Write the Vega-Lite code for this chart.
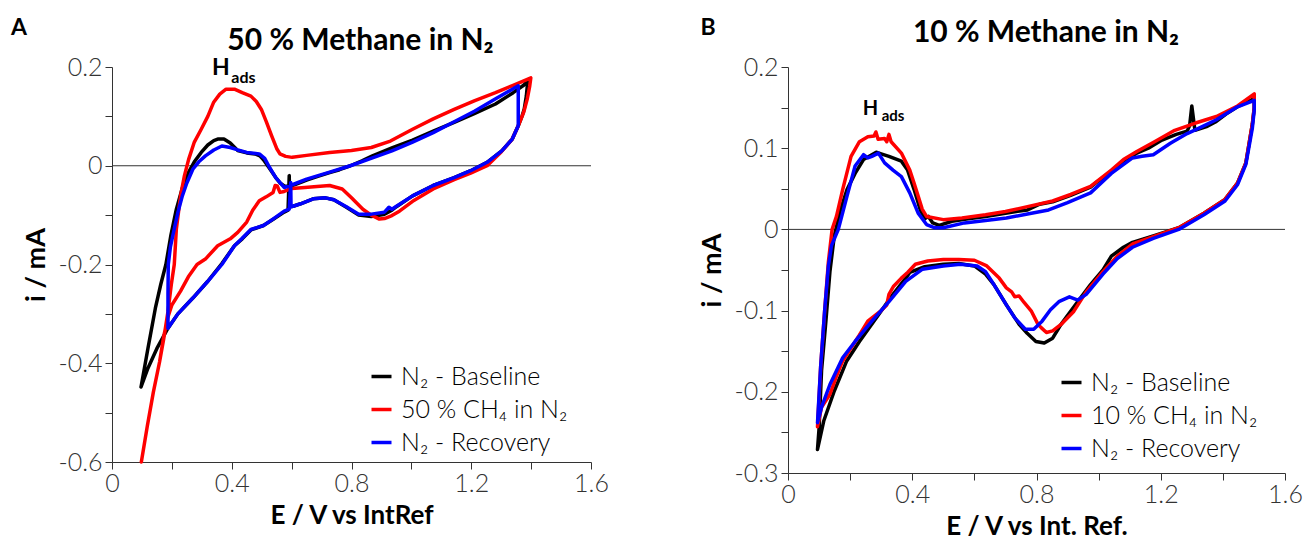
{
  "$schema": "https://vega.github.io/schema/vega-lite/v6.json",
  "background": "white",
  "padding": {"left": 10, "top": 17, "right": 5, "bottom": 0},
  "spacing": 89,
  "config": {
    "view": {"stroke": null},
    "font": "Lato",
    "axis": {"grid": false, "domainColor": "#333333", "tickColor": "#333333", "tickSize": 7, "labelFont": "Lato", "labelFontSize": 25, "labelFontWeight": 300, "labelColor": "#333333", "titleFont": "Lato", "titleFontSize": 27, "titleFontWeight": "bold", "titleColor": "#000000", "labelOverlap": false, "labelFlush": false, "labelBound": false, "labelPadding": 3, "titlePadding": 7},
    "axisX": {"titlePadding": 6, "labelPadding": 2, "titleFontSize": 26},
    "legend": {"symbolType": "stroke", "symbolStrokeWidth": 3.5, "symbolSize": 400, "labelFont": "Lato", "labelFontSize": 25, "labelFontWeight": 300, "labelColor": "#000000", "labelLimit": 400, "rowPadding": 7, "labelOffset": 7, "padding": 0}
  },
  "resolve": {"scale": {"color": "independent"}, "legend": {"color": "independent"}},
  "datasets": {
    "A": [
      {"s":"base","E":0.097,"I":-0.448},{"s":"base","E":0.12,"I":-0.37},{"s":"base","E":0.145,"I":-0.288},{"s":"base","E":0.163,"I":-0.24},{"s":"base","E":0.18,"I":-0.2},{"s":"base","E":0.197,"I":-0.14},{"s":"base","E":0.215,"I":-0.088},{"s":"base","E":0.235,"I":-0.045},{"s":"base","E":0.256,"I":-0.013},{"s":"base","E":0.275,"I":0.008},{"s":"base","E":0.298,"I":0.027},{"s":"base","E":0.32,"I":0.042},{"s":"base","E":0.34,"I":0.051},{"s":"base","E":0.353,"I":0.054},{"s":"base","E":0.374,"I":0.054},{"s":"base","E":0.395,"I":0.046},{"s":"base","E":0.42,"I":0.031},{"s":"base","E":0.45,"I":0.026},{"s":"base","E":0.478,"I":0.024},{"s":"base","E":0.494,"I":0.02},{"s":"base","E":0.506,"I":0.012},{"s":"base","E":0.527,"I":-0.006},{"s":"base","E":0.547,"I":-0.024},{"s":"base","E":0.562,"I":-0.035},{"s":"base","E":0.575,"I":-0.041},{"s":"base","E":0.595,"I":-0.042},{"s":"base","E":0.62,"I":-0.036},{"s":"base","E":0.65,"I":-0.029},{"s":"base","E":0.69,"I":-0.021},{"s":"base","E":0.727,"I":-0.014},{"s":"base","E":0.76,"I":-0.008},{"s":"base","E":0.796,"I":0.0},{"s":"base","E":0.835,"I":0.01},{"s":"base","E":0.87,"I":0.02},{"s":"base","E":0.935,"I":0.036},{"s":"base","E":1.004,"I":0.052},{"s":"base","E":1.073,"I":0.07},{"s":"base","E":1.143,"I":0.088},{"s":"base","E":1.212,"I":0.106},{"s":"base","E":1.281,"I":0.125},{"s":"base","E":1.34,"I":0.148},{"s":"base","E":1.375,"I":0.163},{"s":"base","E":1.39,"I":0.174},{"s":"base","E":1.387,"I":0.16},{"s":"base","E":1.384,"I":0.141},{"s":"base","E":1.377,"I":0.115},{"s":"base","E":1.37,"I":0.101},{"s":"base","E":1.357,"I":0.081},{"s":"base","E":1.337,"I":0.054},{"s":"base","E":1.302,"I":0.03},{"s":"base","E":1.253,"I":0.007},{"s":"base","E":1.198,"I":-0.01},{"s":"base","E":1.143,"I":-0.024},{"s":"base","E":1.073,"I":-0.04},{"s":"base","E":1.004,"I":-0.061},{"s":"base","E":0.95,"I":-0.083},{"s":"base","E":0.935,"I":-0.09},{"s":"base","E":0.907,"I":-0.099},{"s":"base","E":0.866,"I":-0.103},{"s":"base","E":0.824,"I":-0.1},{"s":"base","E":0.783,"I":-0.084},{"s":"base","E":0.741,"I":-0.069},{"s":"base","E":0.713,"I":-0.065},{"s":"base","E":0.672,"I":-0.067},{"s":"base","E":0.63,"I":-0.077},{"s":"base","E":0.605,"I":-0.082},{"s":"base","E":0.594,"I":-0.083},{"s":"base","E":0.592,"I":-0.02},{"s":"base","E":0.588,"I":-0.09},{"s":"base","E":0.575,"I":-0.094},{"s":"base","E":0.54,"I":-0.108},{"s":"base","E":0.506,"I":-0.121},{"s":"base","E":0.464,"I":-0.13},{"s":"base","E":0.435,"I":-0.148},{"s":"base","E":0.409,"I":-0.162},{"s":"base","E":0.367,"I":-0.198},{"s":"base","E":0.32,"I":-0.234},{"s":"base","E":0.27,"I":-0.268},{"s":"base","E":0.22,"I":-0.3},{"s":"base","E":0.187,"I":-0.329},{"s":"base","E":0.15,"I":-0.37},{"s":"base","E":0.12,"I":-0.41},{"s":"base","E":0.097,"I":-0.448},
      {"s":"ch4","E":0.098,"I":-0.6},{"s":"ch4","E":0.118,"I":-0.527},{"s":"ch4","E":0.138,"I":-0.459},{"s":"ch4","E":0.159,"I":-0.397},{"s":"ch4","E":0.173,"I":-0.35},{"s":"ch4","E":0.187,"I":-0.295},{"s":"ch4","E":0.198,"I":-0.241},{"s":"ch4","E":0.208,"I":-0.2},{"s":"ch4","E":0.215,"I":-0.128},{"s":"ch4","E":0.229,"I":-0.061},{"s":"ch4","E":0.242,"I":-0.02},{"s":"ch4","E":0.256,"I":0.013},{"s":"ch4","E":0.275,"I":0.048},{"s":"ch4","E":0.298,"I":0.074},{"s":"ch4","E":0.32,"I":0.1},{"s":"ch4","E":0.339,"I":0.128},{"s":"ch4","E":0.36,"I":0.145},{"s":"ch4","E":0.381,"I":0.155},{"s":"ch4","E":0.409,"I":0.155},{"s":"ch4","E":0.435,"I":0.148},{"s":"ch4","E":0.464,"I":0.141},{"s":"ch4","E":0.482,"I":0.13},{"s":"ch4","E":0.499,"I":0.114},{"s":"ch4","E":0.515,"I":0.09},{"s":"ch4","E":0.533,"I":0.061},{"s":"ch4","E":0.55,"I":0.035},{"s":"ch4","E":0.561,"I":0.024},{"s":"ch4","E":0.58,"I":0.019},{"s":"ch4","E":0.602,"I":0.017},{"s":"ch4","E":0.65,"I":0.021},{"s":"ch4","E":0.727,"I":0.027},{"s":"ch4","E":0.8,"I":0.031},{"s":"ch4","E":0.866,"I":0.037},{"s":"ch4","E":0.93,"I":0.05},{"s":"ch4","E":1.004,"I":0.074},{"s":"ch4","E":1.073,"I":0.095},{"s":"ch4","E":1.143,"I":0.114},{"s":"ch4","E":1.212,"I":0.132},{"s":"ch4","E":1.281,"I":0.148},{"s":"ch4","E":1.34,"I":0.163},{"s":"ch4","E":1.399,"I":0.178},{"s":"ch4","E":1.395,"I":0.16},{"s":"ch4","E":1.387,"I":0.135},{"s":"ch4","E":1.375,"I":0.108},{"s":"ch4","E":1.357,"I":0.081},{"s":"ch4","E":1.337,"I":0.054},{"s":"ch4","E":1.3,"I":0.028},{"s":"ch4","E":1.253,"I":0.0},{"s":"ch4","E":1.198,"I":-0.015},{"s":"ch4","E":1.143,"I":-0.028},{"s":"ch4","E":1.073,"I":-0.047},{"s":"ch4","E":1.004,"I":-0.072},{"s":"ch4","E":0.96,"I":-0.092},{"s":"ch4","E":0.935,"I":-0.101},{"s":"ch4","E":0.91,"I":-0.107},{"s":"ch4","E":0.893,"I":-0.108},{"s":"ch4","E":0.866,"I":-0.1},{"s":"ch4","E":0.838,"I":-0.088},{"s":"ch4","E":0.8,"I":-0.065},{"s":"ch4","E":0.769,"I":-0.047},{"s":"ch4","E":0.727,"I":-0.04},{"s":"ch4","E":0.685,"I":-0.042},{"s":"ch4","E":0.644,"I":-0.044},{"s":"ch4","E":0.6,"I":-0.046},{"s":"ch4","E":0.575,"I":-0.052},{"s":"ch4","E":0.561,"I":-0.054},{"s":"ch4","E":0.552,"I":-0.041},{"s":"ch4","E":0.545,"I":-0.04},{"s":"ch4","E":0.538,"I":-0.054},{"s":"ch4","E":0.515,"I":-0.063},{"s":"ch4","E":0.492,"I":-0.071},{"s":"ch4","E":0.47,"I":-0.09},{"s":"ch4","E":0.45,"I":-0.114},{"s":"ch4","E":0.42,"I":-0.135},{"s":"ch4","E":0.395,"I":-0.148},{"s":"ch4","E":0.353,"I":-0.162},{"s":"ch4","E":0.312,"I":-0.189},{"s":"ch4","E":0.284,"I":-0.2},{"s":"ch4","E":0.255,"I":-0.225},{"s":"ch4","E":0.229,"I":-0.254},{"s":"ch4","E":0.2,"I":-0.282},{"s":"ch4","E":0.185,"I":-0.31},{"s":"ch4","E":0.173,"I":-0.345},{"s":"ch4","E":0.159,"I":-0.397},{"s":"ch4","E":0.138,"I":-0.459},{"s":"ch4","E":0.118,"I":-0.527},{"s":"ch4","E":0.098,"I":-0.6},
      {"s":"rec","E":0.187,"I":-0.329},{"s":"rec","E":0.187,"I":-0.26},{"s":"rec","E":0.188,"I":-0.2},{"s":"rec","E":0.195,"I":-0.165},{"s":"rec","E":0.208,"I":-0.128},{"s":"rec","E":0.22,"I":-0.095},{"s":"rec","E":0.235,"I":-0.061},{"s":"rec","E":0.25,"I":-0.035},{"s":"rec","E":0.27,"I":-0.007},{"s":"rec","E":0.29,"I":0.008},{"s":"rec","E":0.312,"I":0.02},{"s":"rec","E":0.34,"I":0.032},{"s":"rec","E":0.367,"I":0.04},{"s":"rec","E":0.395,"I":0.037},{"s":"rec","E":0.42,"I":0.032},{"s":"rec","E":0.45,"I":0.027},{"s":"rec","E":0.492,"I":0.024},{"s":"rec","E":0.51,"I":0.015},{"s":"rec","E":0.525,"I":-0.002},{"s":"rec","E":0.547,"I":-0.024},{"s":"rec","E":0.575,"I":-0.044},{"s":"rec","E":0.596,"I":-0.04},{"s":"rec","E":0.65,"I":-0.027},{"s":"rec","E":0.727,"I":-0.013},{"s":"rec","E":0.796,"I":0.0},{"s":"rec","E":0.87,"I":0.016},{"s":"rec","E":0.935,"I":0.03},{"s":"rec","E":1.004,"I":0.048},{"s":"rec","E":1.073,"I":0.067},{"s":"rec","E":1.143,"I":0.089},{"s":"rec","E":1.212,"I":0.111},{"s":"rec","E":1.28,"I":0.135},{"s":"rec","E":1.357,"I":0.162},{"s":"rec","E":1.357,"I":0.081},{"s":"rec","E":1.337,"I":0.054},{"s":"rec","E":1.302,"I":0.03},{"s":"rec","E":1.253,"I":0.007},{"s":"rec","E":1.198,"I":-0.01},{"s":"rec","E":1.143,"I":-0.024},{"s":"rec","E":1.073,"I":-0.04},{"s":"rec","E":1.004,"I":-0.061},{"s":"rec","E":0.95,"I":-0.082},{"s":"rec","E":0.935,"I":-0.088},{"s":"rec","E":0.925,"I":-0.084},{"s":"rec","E":0.91,"I":-0.094},{"s":"rec","E":0.866,"I":-0.098},{"s":"rec","E":0.824,"I":-0.098},{"s":"rec","E":0.783,"I":-0.083},{"s":"rec","E":0.741,"I":-0.069},{"s":"rec","E":0.713,"I":-0.065},{"s":"rec","E":0.672,"I":-0.067},{"s":"rec","E":0.63,"I":-0.077},{"s":"rec","E":0.605,"I":-0.082},{"s":"rec","E":0.598,"I":-0.083},{"s":"rec","E":0.597,"I":-0.034},{"s":"rec","E":0.592,"I":-0.088},{"s":"rec","E":0.575,"I":-0.092},{"s":"rec","E":0.54,"I":-0.107},{"s":"rec","E":0.506,"I":-0.121},{"s":"rec","E":0.464,"I":-0.129},{"s":"rec","E":0.435,"I":-0.147},{"s":"rec","E":0.409,"I":-0.162},{"s":"rec","E":0.367,"I":-0.2},{"s":"rec","E":0.32,"I":-0.234},{"s":"rec","E":0.27,"I":-0.268},{"s":"rec","E":0.22,"I":-0.3},{"s":"rec","E":0.187,"I":-0.329}
    ],
    "B": [
      {"s":"base","E":0.095,"I":-0.271},{"s":"base","E":0.1,"I":-0.245},{"s":"base","E":0.108,"I":-0.174},{"s":"base","E":0.122,"I":-0.113},{"s":"base","E":0.135,"I":-0.052},{"s":"base","E":0.149,"I":-0.008},{"s":"base","E":0.169,"I":0.024},{"s":"base","E":0.19,"I":0.049},{"s":"base","E":0.216,"I":0.069},{"s":"base","E":0.243,"I":0.086},{"s":"base","E":0.27,"I":0.092},{"s":"base","E":0.284,"I":0.095},{"s":"base","E":0.3,"I":0.093},{"s":"base","E":0.325,"I":0.09},{"s":"base","E":0.365,"I":0.084},{"s":"base","E":0.385,"I":0.073},{"s":"base","E":0.406,"I":0.049},{"s":"base","E":0.426,"I":0.024},{"s":"base","E":0.44,"I":0.013},{"s":"base","E":0.452,"I":0.016},{"s":"base","E":0.466,"I":0.008},{"s":"base","E":0.487,"I":0.005},{"s":"base","E":0.528,"I":0.01},{"s":"base","E":0.58,"I":0.013},{"s":"base","E":0.636,"I":0.016},{"s":"base","E":0.7,"I":0.02},{"s":"base","E":0.771,"I":0.024},{"s":"base","E":0.81,"I":0.031},{"s":"base","E":0.852,"I":0.034},{"s":"base","E":0.91,"I":0.042},{"s":"base","E":0.974,"I":0.052},{"s":"base","E":1.0,"I":0.06},{"s":"base","E":1.041,"I":0.07},{"s":"base","E":1.08,"I":0.083},{"s":"base","E":1.123,"I":0.094},{"s":"base","E":1.16,"I":0.1},{"s":"base","E":1.204,"I":0.11},{"s":"base","E":1.25,"I":0.117},{"s":"base","E":1.285,"I":0.121},{"s":"base","E":1.293,"I":0.128},{"s":"base","E":1.3,"I":0.152},{"s":"base","E":1.31,"I":0.122},{"s":"base","E":1.35,"I":0.127},{"s":"base","E":1.379,"I":0.133},{"s":"base","E":1.41,"I":0.142},{"s":"base","E":1.447,"I":0.151},{"s":"base","E":1.501,"I":0.161},{"s":"base","E":1.501,"I":0.15},{"s":"base","E":1.495,"I":0.13},{"s":"base","E":1.488,"I":0.114},{"s":"base","E":1.474,"I":0.082},{"s":"base","E":1.447,"I":0.057},{"s":"base","E":1.407,"I":0.037},{"s":"base","E":1.339,"I":0.02},{"s":"base","E":1.258,"I":0.002},{"s":"base","E":1.176,"I":-0.008},{"s":"base","E":1.109,"I":-0.016},{"s":"base","E":1.08,"I":-0.022},{"s":"base","E":1.041,"I":-0.033},{"s":"base","E":1.014,"I":-0.05},{"s":"base","E":0.974,"I":-0.068},{"s":"base","E":0.933,"I":-0.089},{"s":"base","E":0.879,"I":-0.117},{"s":"base","E":0.852,"I":-0.134},{"s":"base","E":0.825,"I":-0.14},{"s":"base","E":0.798,"I":-0.138},{"s":"base","E":0.77,"I":-0.128},{"s":"base","E":0.744,"I":-0.117},{"s":"base","E":0.703,"I":-0.093},{"s":"base","E":0.663,"I":-0.068},{"s":"base","E":0.636,"I":-0.055},{"s":"base","E":0.6,"I":-0.045},{"s":"base","E":0.55,"I":-0.042},{"s":"base","E":0.5,"I":-0.043},{"s":"base","E":0.44,"I":-0.046},{"s":"base","E":0.392,"I":-0.053},{"s":"base","E":0.379,"I":-0.06},{"s":"base","E":0.338,"I":-0.08},{"s":"base","E":0.284,"I":-0.109},{"s":"base","E":0.23,"I":-0.138},{"s":"base","E":0.189,"I":-0.162},{"s":"base","E":0.149,"I":-0.199},{"s":"base","E":0.115,"I":-0.236},{"s":"base","E":0.095,"I":-0.271},
      {"s":"ch4","E":0.095,"I":-0.243},{"s":"ch4","E":0.105,"I":-0.17},{"s":"ch4","E":0.118,"I":-0.1},{"s":"ch4","E":0.13,"I":-0.04},{"s":"ch4","E":0.142,"I":0.0},{"s":"ch4","E":0.156,"I":0.016},{"s":"ch4","E":0.176,"I":0.049},{"s":"ch4","E":0.203,"I":0.09},{"s":"ch4","E":0.23,"I":0.108},{"s":"ch4","E":0.257,"I":0.114},{"s":"ch4","E":0.277,"I":0.115},{"s":"ch4","E":0.283,"I":0.12},{"s":"ch4","E":0.29,"I":0.111},{"s":"ch4","E":0.311,"I":0.112},{"s":"ch4","E":0.318,"I":0.108},{"s":"ch4","E":0.325,"I":0.117},{"s":"ch4","E":0.332,"I":0.108},{"s":"ch4","E":0.365,"I":0.094},{"s":"ch4","E":0.392,"I":0.073},{"s":"ch4","E":0.405,"I":0.058},{"s":"ch4","E":0.419,"I":0.041},{"s":"ch4","E":0.432,"I":0.025},{"s":"ch4","E":0.446,"I":0.016},{"s":"ch4","E":0.5,"I":0.012},{"s":"ch4","E":0.56,"I":0.014},{"s":"ch4","E":0.636,"I":0.018},{"s":"ch4","E":0.7,"I":0.022},{"s":"ch4","E":0.771,"I":0.028},{"s":"ch4","E":0.852,"I":0.035},{"s":"ch4","E":0.91,"I":0.043},{"s":"ch4","E":0.974,"I":0.053},{"s":"ch4","E":1.041,"I":0.073},{"s":"ch4","E":1.08,"I":0.086},{"s":"ch4","E":1.123,"I":0.096},{"s":"ch4","E":1.18,"I":0.108},{"s":"ch4","E":1.245,"I":0.122},{"s":"ch4","E":1.312,"I":0.131},{"s":"ch4","E":1.379,"I":0.139},{"s":"ch4","E":1.447,"I":0.152},{"s":"ch4","E":1.501,"I":0.167},{"s":"ch4","E":1.501,"I":0.15},{"s":"ch4","E":1.495,"I":0.13},{"s":"ch4","E":1.488,"I":0.114},{"s":"ch4","E":1.474,"I":0.082},{"s":"ch4","E":1.447,"I":0.057},{"s":"ch4","E":1.407,"I":0.037},{"s":"ch4","E":1.339,"I":0.02},{"s":"ch4","E":1.258,"I":0.002},{"s":"ch4","E":1.176,"I":-0.009},{"s":"ch4","E":1.109,"I":-0.018},{"s":"ch4","E":1.06,"I":-0.033},{"s":"ch4","E":1.014,"I":-0.052},{"s":"ch4","E":0.96,"I":-0.077},{"s":"ch4","E":0.92,"I":-0.101},{"s":"ch4","E":0.879,"I":-0.117},{"s":"ch4","E":0.852,"I":-0.125},{"s":"ch4","E":0.832,"I":-0.127},{"s":"ch4","E":0.815,"I":-0.121},{"s":"ch4","E":0.805,"I":-0.117},{"s":"ch4","E":0.784,"I":-0.101},{"s":"ch4","E":0.76,"I":-0.09},{"s":"ch4","E":0.744,"I":-0.082},{"s":"ch4","E":0.73,"I":-0.083},{"s":"ch4","E":0.72,"I":-0.077},{"s":"ch4","E":0.703,"I":-0.072},{"s":"ch4","E":0.68,"I":-0.06},{"s":"ch4","E":0.64,"I":-0.045},{"s":"ch4","E":0.6,"I":-0.038},{"s":"ch4","E":0.55,"I":-0.037},{"s":"ch4","E":0.5,"I":-0.037},{"s":"ch4","E":0.45,"I":-0.039},{"s":"ch4","E":0.41,"I":-0.043},{"s":"ch4","E":0.385,"I":-0.053},{"s":"ch4","E":0.365,"I":-0.06},{"s":"ch4","E":0.34,"I":-0.07},{"s":"ch4","E":0.325,"I":-0.08},{"s":"ch4","E":0.318,"I":-0.093},{"s":"ch4","E":0.3,"I":-0.1},{"s":"ch4","E":0.257,"I":-0.113},{"s":"ch4","E":0.23,"I":-0.13},{"s":"ch4","E":0.203,"I":-0.146},{"s":"ch4","E":0.176,"I":-0.162},{"s":"ch4","E":0.155,"I":-0.182},{"s":"ch4","E":0.135,"I":-0.203},{"s":"ch4","E":0.108,"I":-0.219},{"s":"ch4","E":0.095,"I":-0.243},
      {"s":"rec","E":0.095,"I":-0.238},{"s":"rec","E":0.105,"I":-0.17},{"s":"rec","E":0.118,"I":-0.1},{"s":"rec","E":0.13,"I":-0.045},{"s":"rec","E":0.14,"I":-0.02},{"s":"rec","E":0.162,"I":0.0},{"s":"rec","E":0.19,"I":0.041},{"s":"rec","E":0.216,"I":0.078},{"s":"rec","E":0.243,"I":0.092},{"s":"rec","E":0.257,"I":0.088},{"s":"rec","E":0.27,"I":0.09},{"s":"rec","E":0.291,"I":0.094},{"s":"rec","E":0.311,"I":0.082},{"s":"rec","E":0.338,"I":0.073},{"s":"rec","E":0.365,"I":0.065},{"s":"rec","E":0.392,"I":0.045},{"s":"rec","E":0.419,"I":0.02},{"s":"rec","E":0.446,"I":0.006},{"s":"rec","E":0.473,"I":0.002},{"s":"rec","E":0.5,"I":0.002},{"s":"rec","E":0.568,"I":0.008},{"s":"rec","E":0.636,"I":0.011},{"s":"rec","E":0.703,"I":0.014},{"s":"rec","E":0.771,"I":0.019},{"s":"rec","E":0.839,"I":0.024},{"s":"rec","E":0.9,"I":0.033},{"s":"rec","E":0.974,"I":0.045},{"s":"rec","E":1.041,"I":0.069},{"s":"rec","E":1.109,"I":0.088},{"s":"rec","E":1.14,"I":0.09},{"s":"rec","E":1.176,"I":0.092},{"s":"rec","E":1.231,"I":0.106},{"s":"rec","E":1.285,"I":0.118},{"s":"rec","E":1.33,"I":0.126},{"s":"rec","E":1.379,"I":0.135},{"s":"rec","E":1.447,"I":0.151},{"s":"rec","E":1.501,"I":0.159},{"s":"rec","E":1.501,"I":0.147},{"s":"rec","E":1.495,"I":0.125},{"s":"rec","E":1.488,"I":0.11},{"s":"rec","E":1.474,"I":0.08},{"s":"rec","E":1.447,"I":0.055},{"s":"rec","E":1.407,"I":0.035},{"s":"rec","E":1.339,"I":0.018},{"s":"rec","E":1.258,"I":0.0},{"s":"rec","E":1.176,"I":-0.011},{"s":"rec","E":1.109,"I":-0.022},{"s":"rec","E":1.06,"I":-0.036},{"s":"rec","E":1.014,"I":-0.055},{"s":"rec","E":0.96,"I":-0.08},{"s":"rec","E":0.933,"I":-0.087},{"s":"rec","E":0.906,"I":-0.083},{"s":"rec","E":0.872,"I":-0.089},{"s":"rec","E":0.845,"I":-0.099},{"s":"rec","E":0.818,"I":-0.113},{"s":"rec","E":0.791,"I":-0.123},{"s":"rec","E":0.764,"I":-0.123},{"s":"rec","E":0.73,"I":-0.109},{"s":"rec","E":0.703,"I":-0.093},{"s":"rec","E":0.663,"I":-0.068},{"s":"rec","E":0.636,"I":-0.052},{"s":"rec","E":0.609,"I":-0.045},{"s":"rec","E":0.555,"I":-0.043},{"s":"rec","E":0.5,"I":-0.045},{"s":"rec","E":0.433,"I":-0.049},{"s":"rec","E":0.379,"I":-0.064},{"s":"rec","E":0.325,"I":-0.089},{"s":"rec","E":0.27,"I":-0.113},{"s":"rec","E":0.216,"I":-0.138},{"s":"rec","E":0.176,"I":-0.158},{"s":"rec","E":0.135,"I":-0.191},{"s":"rec","E":0.108,"I":-0.219},{"s":"rec","E":0.095,"I":-0.238}
    ]
  },
  "hconcat": [
    {
      "width": 479,
      "height": 395,
      "layer": [
        {
          "data": {"values": [{"z": 0}]},
          "mark": {"type": "rule", "color": "#333333", "strokeWidth": 1},
          "encoding": {"y": {"field": "z", "type": "quantitative", "title": "i / mA", "scale": {"domain": [-0.6, 0.2], "nice": false, "zero": false}}}
        },
        {
          "data": {"name": "A"},
          "mark": {"type": "line", "strokeWidth": 3.5, "strokeJoin": "round", "strokeCap": "round"},
          "encoding": {
            "x": {"field": "E", "type": "quantitative", "title": "E / V vs IntRef", "scale": {"domain": [0, 1.6], "nice": false, "zero": false},
                  "axis": {"values": [0, 0.2, 0.4, 0.6, 0.8, 1, 1.2, 1.4, 1.6], "labelExpr": "round(datum.value*10) % 4 == 0 ? format(datum.value, '~g') : ''"}},
            "y": {"field": "I", "type": "quantitative", "title": "i / mA", "scale": {"domain": [-0.6, 0.2], "nice": false, "zero": false},
                  "axis": {"values": [-0.6, -0.5, -0.4, -0.3, -0.2, -0.1, 0, 0.1, 0.2], "labelExpr": "round(datum.value*10) % 2 == 0 ? replace(format(datum.value, '~g'), '\u2212', '-') : ''"}},
            "color": {"field": "s", "type": "nominal", "scale": {"domain": ["base", "ch4", "rec"], "range": ["#000000", "#ff0000", "#0000ff"]},
                      "legend": {"title": null, "orient": "none", "legendX": 257, "legendY": 297,
                                 "labelExpr": "datum.label == 'base' ? 'N₂ - Baseline' : datum.label == 'ch4' ? '50 % CH₄ in N₂' : 'N₂ - Recovery'"}},
            "order": {"value": null}
          }
        },
        {
          "data": {"values": [{"t": "50 % Methane in N₂", "E": 0.83, "I": 0.2344}]},
          "mark": {"type": "text", "font": "Lato", "fontSize": 30, "fontWeight": "bold", "align": "center", "baseline": "alphabetic", "color": "#000000"},
          "encoding": {
            "x": {"field": "E", "type": "quantitative", "title": "E / V vs IntRef", "scale": {"domain": [0, 1.6], "nice": false, "zero": false}},
            "y": {"field": "I", "type": "quantitative", "title": "i / mA", "scale": {"domain": [-0.6, 0.2], "nice": false, "zero": false}},
            "text": {"field": "t"}
          }
        },
        {
          "data": {"values": [{"t": "A", "E": -0.311, "I": 0.2648}, {"t": "H", "E": 0.364, "I": 0.184}]},
          "mark": {"type": "text", "font": "Lato", "fontSize": 23, "fontWeight": "bold", "align": "center", "baseline": "alphabetic", "color": "#000000"},
          "encoding": {
            "x": {"field": "E", "type": "quantitative", "title": "E / V vs IntRef", "scale": {"domain": [0, 1.6], "nice": false, "zero": false}},
            "y": {"field": "I", "type": "quantitative", "title": "i / mA", "scale": {"domain": [-0.6, 0.2], "nice": false, "zero": false}},
            "text": {"field": "t"}
          }
        },
        {
          "data": {"values": [{"t": "ads", "E": 0.439, "I": 0.1676}]},
          "mark": {"type": "text", "font": "Lato", "fontSize": 16, "fontWeight": "bold", "align": "center", "baseline": "alphabetic", "color": "#000000"},
          "encoding": {
            "x": {"field": "E", "type": "quantitative", "title": "E / V vs IntRef", "scale": {"domain": [0, 1.6], "nice": false, "zero": false}},
            "y": {"field": "I", "type": "quantitative", "title": "i / mA", "scale": {"domain": [-0.6, 0.2], "nice": false, "zero": false}},
            "text": {"field": "t"}
          }
        }
      ]
    },
    {
      "width": 497,
      "height": 406,
      "layer": [
        {
          "data": {"values": [{"z": 0}]},
          "mark": {"type": "rule", "color": "#333333", "strokeWidth": 1},
          "encoding": {"y": {"field": "z", "type": "quantitative", "title": "i / mA", "scale": {"domain": [-0.3, 0.2], "nice": false, "zero": false}}}
        },
        {
          "data": {"name": "B"},
          "mark": {"type": "line", "strokeWidth": 3.5, "strokeJoin": "round", "strokeCap": "round"},
          "encoding": {
            "x": {"field": "E", "type": "quantitative", "title": "E / V vs Int. Ref.", "scale": {"domain": [0, 1.6], "nice": false, "zero": false},
                  "axis": {"values": [0, 0.2, 0.4, 0.6, 0.8, 1, 1.2, 1.4, 1.6], "labelExpr": "round(datum.value*10) % 4 == 0 ? format(datum.value, '~g') : ''"}},
            "y": {"field": "I", "type": "quantitative", "title": "i / mA", "scale": {"domain": [-0.3, 0.2], "nice": false, "zero": false},
                  "axis": {"values": [-0.3, -0.25, -0.2, -0.15, -0.1, -0.05, 0, 0.05, 0.1, 0.15, 0.2], "labelExpr": "round(datum.value*20) % 2 == 0 ? replace(format(datum.value, '~g'), '\u2212', '-') : ''"}},
            "color": {"field": "s", "type": "nominal", "scale": {"domain": ["base", "ch4", "rec"], "range": ["#000000", "#ff0000", "#0000ff"]},
                      "legend": {"title": null, "orient": "none", "legendX": 271, "legendY": 303,
                                 "labelExpr": "datum.label == 'base' ? 'N₂ - Baseline' : datum.label == 'ch4' ? '10 % CH₄ in N₂' : 'N₂ - Recovery'"}},
            "order": {"value": null}
          }
        },
        {
          "data": {"values": [{"t": "10 % Methane in N₂", "E": 0.8306, "I": 0.2309}]},
          "mark": {"type": "text", "font": "Lato", "fontSize": 30, "fontWeight": "bold", "align": "center", "baseline": "alphabetic", "color": "#000000"},
          "encoding": {
            "x": {"field": "E", "type": "quantitative", "title": "E / V vs Int. Ref.", "scale": {"domain": [0, 1.6], "nice": false, "zero": false}},
            "y": {"field": "I", "type": "quantitative", "title": "i / mA", "scale": {"domain": [-0.3, 0.2], "nice": false, "zero": false}},
            "text": {"field": "t"}
          }
        },
        {
          "data": {"values": [{"t": "B", "E": -0.2576, "I": 0.239}]},
          "mark": {"type": "text", "font": "Lato", "fontSize": 23, "fontWeight": "bold", "align": "center", "baseline": "alphabetic", "color": "#000000"},
          "encoding": {
            "x": {"field": "E", "type": "quantitative", "title": "E / V vs Int. Ref.", "scale": {"domain": [0, 1.6], "nice": false, "zero": false}},
            "y": {"field": "I", "type": "quantitative", "title": "i / mA", "scale": {"domain": [-0.3, 0.2], "nice": false, "zero": false}},
            "text": {"field": "t"}
          }
        },
        {
          "data": {"values": [{"t": "H", "E": 0.2656, "I": 0.1406}]},
          "mark": {"type": "text", "font": "Lato", "fontSize": 20, "fontWeight": "bold", "align": "center", "baseline": "alphabetic", "color": "#000000"},
          "encoding": {
            "x": {"field": "E", "type": "quantitative", "title": "E / V vs Int. Ref.", "scale": {"domain": [0, 1.6], "nice": false, "zero": false}},
            "y": {"field": "I", "type": "quantitative", "title": "i / mA", "scale": {"domain": [-0.3, 0.2], "nice": false, "zero": false}},
            "text": {"field": "t"}
          }
        },
        {
          "data": {"values": [{"t": "ads", "E": 0.338, "I": 0.1333}]},
          "mark": {"type": "text", "font": "Lato", "fontSize": 15, "fontWeight": "bold", "align": "center", "baseline": "alphabetic", "color": "#000000"},
          "encoding": {
            "x": {"field": "E", "type": "quantitative", "title": "E / V vs Int. Ref.", "scale": {"domain": [0, 1.6], "nice": false, "zero": false}},
            "y": {"field": "I", "type": "quantitative", "title": "i / mA", "scale": {"domain": [-0.3, 0.2], "nice": false, "zero": false}},
            "text": {"field": "t"}
          }
        }
      ]
    }
  ]
}
